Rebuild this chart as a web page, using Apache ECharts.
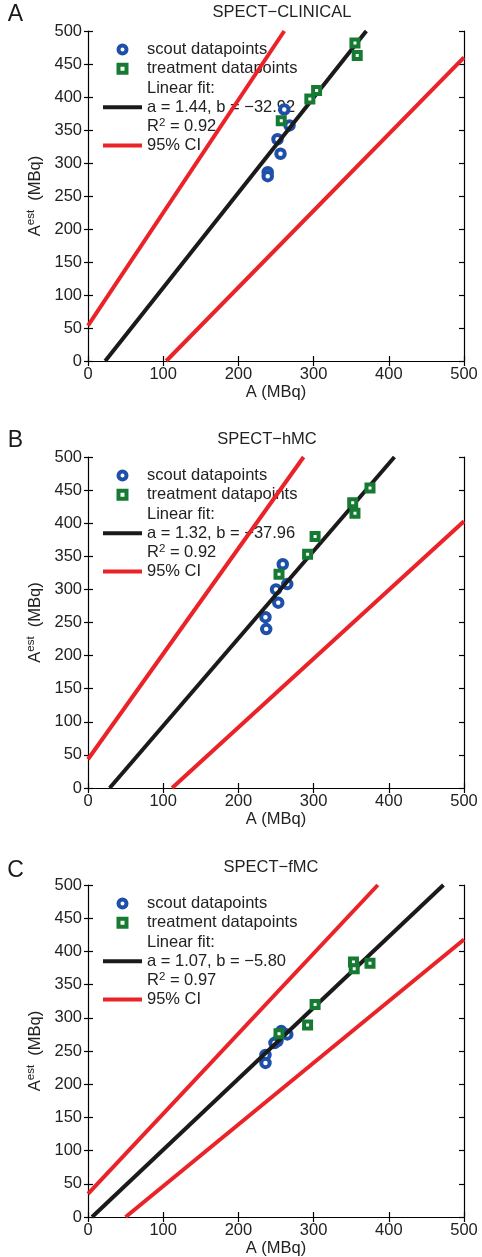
<!DOCTYPE html>
<html>
<head>
<meta charset="utf-8">
<script src="https://cdn.jsdelivr.net/npm/echarts@6/dist/echarts.min.js"></script>
<style>
  html, body { margin: 0; padding: 0; background: #fff; }
  #chart { width: 482px; height: 1257px; }
</style>
</head>
<body>
<div id="chart"></div>
<script>
// panel titles / letters
const panelTitles = ['SPECT−CLINICAL', 'SPECT−hMC', 'SPECT−fMC'];
const panelLetters = ['A', 'B', 'C'];

// fit text shown in legend
const fitTexts = [
  'Linear fit:\na = 1.44, b = −32.92\nR{sup|2} = 0.92',
  'Linear fit:\na = 1.32, b = −37.96\nR{sup|2} = 0.92',
  'Linear fit:\na = 1.07, b = −5.80\nR{sup|2} = 0.97'
];

// [A, A_est]
const scoutA = [[261, 381], [268, 357], [252, 336], [256, 314], [239, 286], [239, 280]];
const treatA = [[355, 482], [358, 463], [304, 410], [295, 397], [257, 364]];
const fitA = [[22.9, 0], [370.1, 500]];
const ciUpA = [[0, 53.5], [261, 500]];
const ciLoA = [[104, 0], [500, 460]];

const scoutB = [[259, 338], [265, 308], [250, 300], [253, 280], [236, 258], [237, 240]];
const treatB = [[375, 453], [352, 431], [355, 415], [302, 380], [292, 353], [254, 323]];
const fitB = [[28.8, 0], [407.5, 500]];
const ciUpB = [[0, 43.4], [286.7, 500]];
const ciLoB = [[111.8, 0], [500, 403]];

const scoutC = [[257, 280], [265, 275], [252, 265], [248, 262], [236, 244], [236, 232]];
const treatC = [[353, 384], [375, 382], [354, 374], [302, 320], [292, 289], [254, 276]];
const fitC = [[5.4, 0], [472.7, 500]];
const ciUpC = [[0, 35], [385.4, 500]];
const ciLoC = [[50, 0], [500, 418]];

const panels = [
  { scout: scoutA, treat: treatA, fit: fitA, ciUp: ciUpA, ciLo: ciLoA },
  { scout: scoutB, treat: treatB, fit: fitB, ciUp: ciUpB, ciLo: ciLoB },
  { scout: scoutC, treat: treatC, fit: fitC, ciUp: ciUpC, ciLo: ciLoC }
];

// layout
const gridTops = [31, 457, 885];
const gridHeights = [330, 331, 332];
const titleX = [282, 267, 271];
const titleY = [12, 439, 867];
const letterY = [15, 441, 871];

const FONT = 'Liberation Sans, Arial, Helvetica, sans-serif';
const TXT = '#222';
const BLUE = '#1e50aa';
const GREEN = '#167a32';
const RED = '#ea2328';
const BLACK = '#1a1a1a';

const squareIcon = 'path://M0,0L10,0L10,10L0,10Z';
const lineIcon = 'path://M0,0L39,0L39,4L0,4Z';

const chart = echarts.init(document.getElementById('chart'), null, { renderer: 'canvas' });

const grid = [], xAxis = [], yAxis = [], series = [], legend = [], graphic = [];
const legendNames = {};

panels.forEach(function (p, i) {
  grid.push({ left: 88, width: 376, top: gridTops[i], height: gridHeights[i], outerBoundsMode: 'none' });

  const lineStyle = { color: '#000', width: 1.2 };
  // bottom x
  xAxis.push({
    gridIndex: i, type: 'value', min: 0, max: 500, interval: 100,
    axisLine: { show: true, lineStyle: lineStyle },
    axisTick: { show: true, inside: true, length: 5, lineStyle: lineStyle },
    axisLabel: { margin: 5, fontSize: 16.5, color: TXT, fontFamily: FONT },
    splitLine: { show: false },
    name: 'A (MBq)', nameLocation: 'middle', nameGap: 22,
    nameTextStyle: { fontSize: 16.5, color: TXT, fontFamily: FONT }
  });
  // top x (box + ticks)
  xAxis.push({
    gridIndex: i, type: 'value', position: 'top', min: 0, max: 500, interval: 100,
    axisLine: { show: true, lineStyle: lineStyle },
    axisTick: { show: true, inside: true, length: 5, lineStyle: lineStyle },
    axisLabel: { show: false }, splitLine: { show: false }
  });
  // left y
  yAxis.push({
    gridIndex: i, type: 'value', min: 0, max: 500, interval: 50,
    axisLine: { show: true, lineStyle: lineStyle },
    axisTick: { show: true, inside: false, length: 4, lineStyle: lineStyle },
    axisLabel: { margin: 6, fontSize: 16.5, color: TXT, fontFamily: FONT },
    splitLine: { show: false },
    name: '{n|A}{s|est}{n|  (MBq)}', nameLocation: 'middle', nameGap: 40, nameRotate: 90,
    nameTextStyle: {
      fontSize: 16.5, color: TXT, fontFamily: FONT,
      rich: {
        n: { fontSize: 16.5, lineHeight: 20, color: TXT, fontFamily: FONT },
        s: { fontSize: 11.5, lineHeight: 12, verticalAlign: 'top', color: TXT, fontFamily: FONT }
      }
    }
  });
  // left y inner ticks
  yAxis.push({
    gridIndex: i, type: 'value', position: 'left', offset: 0, min: 0, max: 500, interval: 50,
    axisLine: { show: false },
    axisTick: { show: true, inside: true, length: 5, lineStyle: lineStyle },
    axisLabel: { show: false }, splitLine: { show: false }
  });
  // right y
  yAxis.push({
    gridIndex: i, type: 'value', position: 'right', min: 0, max: 500, interval: 50,
    axisLine: { show: true, lineStyle: lineStyle },
    axisTick: { show: true, inside: true, length: 5, lineStyle: lineStyle },
    axisLabel: { show: false }, splitLine: { show: false }
  });

  const xi = 2 * i, yi = 3 * i;
  const fitName = 'fit' + panelLetters[i];
  legendNames[fitName] = fitTexts[i];

  series.push({
    name: 'scout datapoints', type: 'scatter', xAxisIndex: xi, yAxisIndex: yi, z: 3,
    symbol: 'circle', symbolSize: 8.5,
    itemStyle: { color: '#fff', borderColor: BLUE, borderWidth: 4, opacity: 1 },
    data: p.scout
  });
  series.push({
    name: fitName, type: 'line', xAxisIndex: xi, yAxisIndex: yi, z: 4,
    showSymbol: false, symbol: 'none',
    lineStyle: { color: BLACK, width: 4 }, itemStyle: { color: BLACK },
    data: p.fit
  });
  series.push({
    name: 'treatment datapoints', type: 'scatter', xAxisIndex: xi, yAxisIndex: yi, z: 5,
    symbol: 'rect', symbolSize: 7,
    itemStyle: { color: '#fff', borderColor: GREEN, borderWidth: 4, opacity: 1 },
    data: p.treat
  });
  [p.ciUp, p.ciLo].forEach(function (d) {
    series.push({
      name: '95% CI', type: 'line', xAxisIndex: xi, yAxisIndex: yi, z: 5,
      showSymbol: false, symbol: 'none',
      lineStyle: { color: RED, width: 4 }, itemStyle: { color: RED },
      data: d
    });
  });

  legend.push({
    orient: 'vertical', left: 103, top: gridTops[i] + 9,
    padding: 0, itemGap: 0, itemWidth: 39, itemHeight: 8,
    selectedMode: false, z: 1,
    formatter: function (name) { return legendNames[name] || name; },
    textStyle: {
      fontSize: 16.5, lineHeight: 19.2, color: TXT, fontFamily: FONT,
      rich: { sup: { fontSize: 11.5, lineHeight: 12, verticalAlign: 'top', color: TXT, fontFamily: FONT } }
    },
    data: [
      { name: 'scout datapoints', icon: 'circle', itemStyle: { color: '#fff', borderColor: BLUE, borderWidth: 4 } },
      { name: 'treatment datapoints', icon: squareIcon, itemStyle: { color: '#fff', borderColor: GREEN, borderWidth: 4 } },
      { name: fitName, icon: lineIcon, itemStyle: { color: BLACK, borderWidth: 0 } },
      { name: '95% CI', icon: lineIcon, itemStyle: { color: RED, borderWidth: 0 } }
    ]
  });

  graphic.push({
    type: 'text', x: titleX[i], y: titleY[i], silent: true,
    style: { text: panelTitles[i], fontSize: 16.5, fontFamily: FONT, fill: TXT,
      align: 'center', verticalAlign: 'middle', textAlign: 'center', textVerticalAlign: 'middle' }
  });
  graphic.push({
    type: 'text', x: 15.5, y: letterY[i], silent: true,
    style: { text: panelLetters[i], fontSize: 23, fontFamily: FONT, fill: '#1a1a1a',
      align: 'center', verticalAlign: 'middle', textAlign: 'center', textVerticalAlign: 'middle' }
  });
});

chart.setOption({
  animation: false,
  backgroundColor: '#fff',
  grid: grid,
  xAxis: xAxis,
  yAxis: yAxis,
  legend: legend,
  graphic: graphic,
  series: series
});
</script>
</body>
</html>
